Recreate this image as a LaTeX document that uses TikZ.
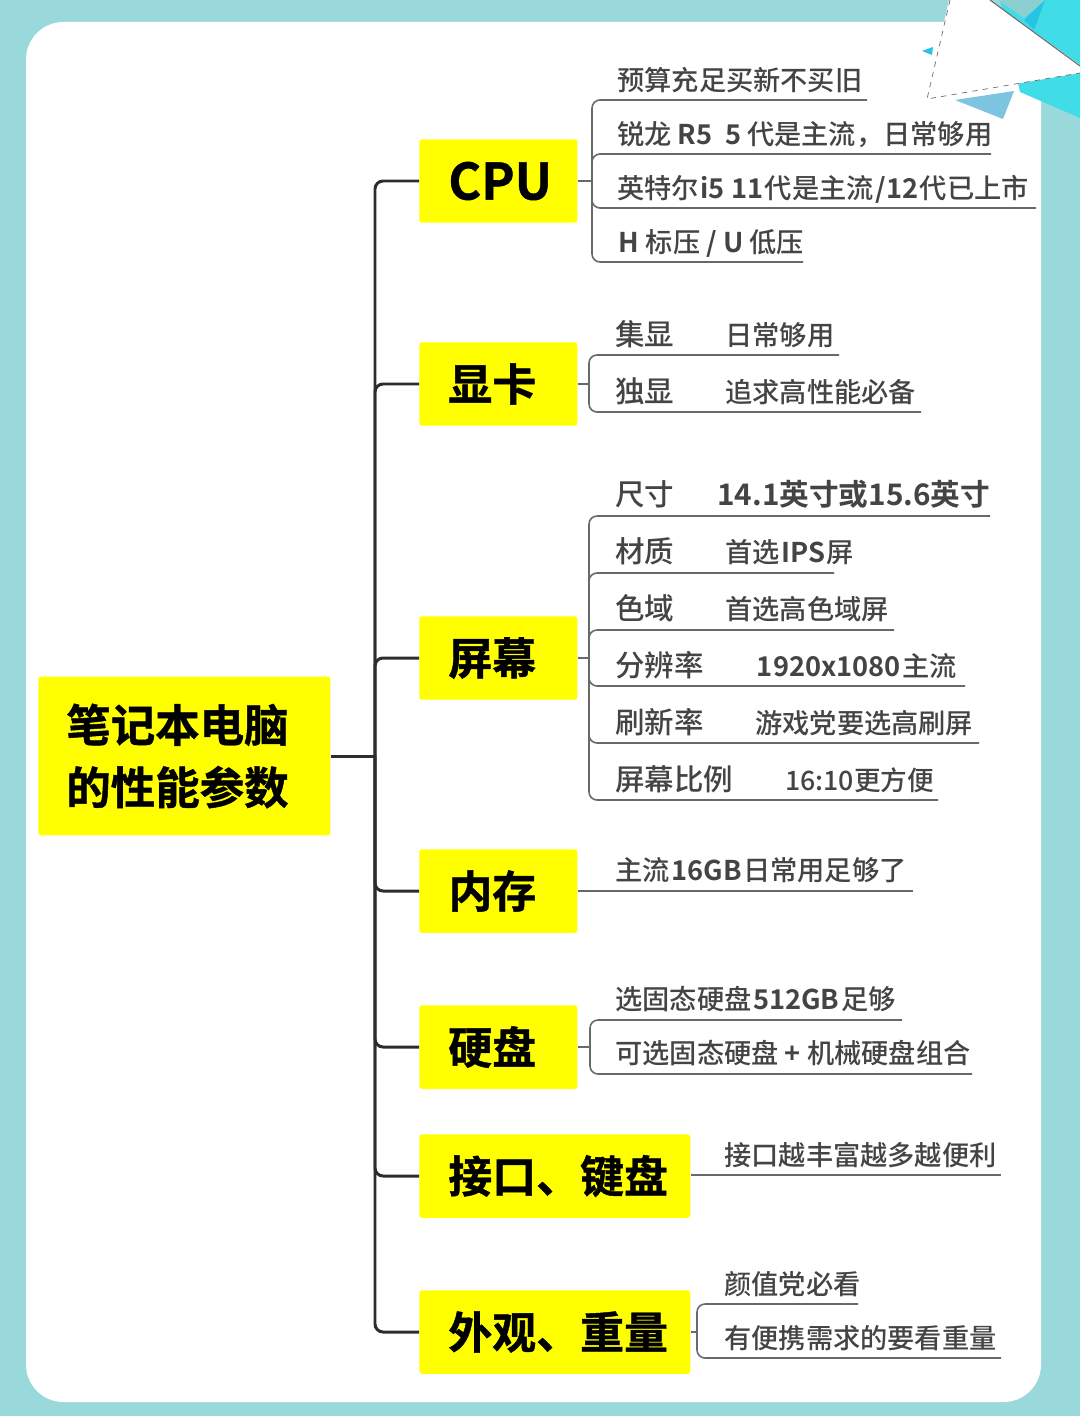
\documentclass[tikz,border=0pt]{standalone}
\usepackage{fontspec}
\usepackage{xcolor}
\setmainfont{Noto Sans CJK SC Medium}
\newfontfamily\titlefont[FakeBold=1.0]{Noto Sans CJK SC Bold}
\newfontfamily\strongfont{Noto Sans CJK SC Bold}
\newcommand{\lat}[1]{\hspace{0.06em}{\strongfont #1}\hspace{0.06em}}
\usetikzlibrary{positioning}
\definecolor{framecolor}{RGB}{154, 217, 219}
\definecolor{topiccolor}{RGB}{255, 255, 0}
\definecolor{decocyan}{RGB}{64, 220, 232}
\definecolor{decoteal}{RGB}{140, 207, 208}
\definecolor{decodeep}{RGB}{38, 195, 226}
\definecolor{decoblue}{RGB}{124, 196, 224}
\definecolor{leafcolor}{RGB}{68, 68, 68}
\definecolor{linecolor}{RGB}{105, 105, 105}
\definecolor{trunkcolor}{RGB}{45, 45, 45}

\begin{document}
\begin{tikzpicture}[
    x=0.02cm, y=-0.02cm,
    topic/.style={rectangle, rounded corners=1.5pt, fill=topiccolor, anchor=west, minimum height=1.67cm, inner xsep=0.58cm, inner ysep=0pt, align=left, font=\titlefont\fontsize{25}{26}\selectfont, text=black},
    smalltopic/.style={topic, minimum width=3.16cm, text width=2cm},
    widetopic/.style={topic, minimum width=5.42cm, text width=4.26cm},
    leaf/.style={anchor=west, inner sep=0pt, text height=1.15em, text depth=0em, text=leafcolor, font=\fontsize{15.5}{18}\selectfont},
    leaflabel/.style={leaf, font=\fontsize{16.8}{18}\selectfont},
    trunk/.style={draw=trunkcolor, line width=1.7pt, rounded corners=0.16cm},
    branch/.style={draw=linecolor, line width=0.9pt, rounded corners=0.16cm}
]
    % Frame and page
    \useasboundingbox (0,0) rectangle (1080,1416);
    \fill[framecolor] (0,0) rectangle (1080,1416);
    \fill[white, rounded corners=0.75cm] (26,22) rectangle (1041,1402);

    % Corner decoration
    \fill[decocyan] (1000,0) -- (1080,0) -- (1080,118) -- (1020,92) -- cycle;
    \fill[decoteal] (998,0) -- (1045,0) -- (1024,18) -- cycle;
    \fill[decodeep] (1024,20) -- (1045,0) -- (1034,30) -- cycle;
    \fill[decoblue] (955,100) -- (1014,91) -- (1003,119) -- cycle;
    \fill[decodeep] (922,51) -- (933,47) -- (932,55) -- cycle;
    \fill[white] (949,0) -- (990,0) -- (1080,65) -- (1080,73) -- (927,99) -- cycle;
    \draw[trunkcolor!70, line width=0.4pt, dashed] (950,0) -- (927,99) -- (1080,73);
    \draw[linecolor, line width=0.6pt] (990,0) -- (1080,66);

    % Root
    \node[topic, minimum width=5.84cm, minimum height=3.18cm, inner xsep=0.56cm, text width=4.72cm, font=\titlefont\fontsize{25.3}{35.5}\selectfont] (root) at (38,756) {笔记本电脑\\的性能参数};
    \coordinate (rootjoint) at (375,756);

    % Topics
    \node[smalltopic, font=\titlefont\fontsize{28.5}{30}\selectfont] (cpu) at (419,181) {CPU};
    \node[smalltopic] (gpu) at (419,384) {显卡};
    \node[smalltopic] (screen) at (419,658) {屏幕};
    \node[smalltopic] (memory) at (419,891) {内存};
    \node[smalltopic] (disk) at (419,1047) {硬盘};
    \node[widetopic] (ports) at (419,1176) {接口、键盘};
    \node[widetopic] (looks) at (419,1332) {外观、重量};

    % Trunk
    \draw[trunk] (root.east) -- (rootjoint);
    \draw[trunk] (rootjoint) |- (cpu.west);
    \draw[trunk] (rootjoint) |- (gpu.west);
    \draw[trunk] (rootjoint) |- (screen.west);
    \draw[trunk] (rootjoint) |- (memory.west);
    \draw[trunk] (rootjoint) |- (disk.west);
    \draw[trunk] (rootjoint) |- (ports.west);
    \draw[trunk] (rootjoint) |- (looks.west);

    % CPU leaves
    \coordinate (cpujoint) at (592,181);
    \node[leaf] (cpua) at (617,80) {预算充足买新不买旧};
    \node[leaf] (cpub) at (617,134) {锐龙\,\lat{R5\ \ 5}\,代是主流，日常够用};
    \node[leaf] (cpuc) at (617,188) {英特尔\lat{i5 11}代是主流\lat{/12}代已上市};
    \node[leaf] (cpud) at (617,242) {\lat{H}\,标压\,\lat{/ U}\,低压};
    \coordinate (cpuaend) at (867,100);
    \coordinate (cpubend) at (991,154);
    \coordinate (cpucend) at (1036,208);
    \coordinate (cpudend) at (803,262);
    \draw[branch] (cpu.east) -- (cpujoint);
    \draw[branch] (cpujoint) |- (cpuaend);
    \draw[branch] (cpujoint) |- (cpubend);
    \draw[branch] (cpujoint) |- (cpucend);
    \draw[branch] (cpujoint) |- (cpudend);

    % Graphics leaves
    \coordinate (gpujoint) at (589,384);
    \node[leaflabel] (gpua) at (615,335) {集显};
    \node[leaf] (gpuatext) at (725,335) {日常够用};
    \node[leaflabel] (gpub) at (615,392) {独显};
    \node[leaf] (gpubtext) at (725,392) {追求高性能必备};
    \coordinate (gpuaend) at (839,355);
    \coordinate (gpubend) at (921,412);
    \draw[branch] (gpu.east) -- (gpujoint);
    \draw[branch] (gpujoint) |- (gpuaend);
    \draw[branch] (gpujoint) |- (gpubend);

    % Screen leaves
    \coordinate (screenjoint) at (589,658);
    \node[leaflabel] (screena) at (615,495) {尺寸};
    \node[leaf, font=\strongfont\fontsize{16.9}{18}\selectfont] (screenatext) at (717,495) {14.1英寸或15.6英寸};
    \node[leaflabel] (screenb) at (615,552) {材质};
    \node[leaf] (screenbtext) at (725,552) {首选\lat{IPS}屏};
    \node[leaflabel] (screenc) at (615,609) {色域};
    \node[leaf] (screenctext) at (725,609) {首选高色域屏};
    \node[leaflabel] (screend) at (615,666) {分辨率};
    \node[leaf] (screendtext) at (755,666) {\lat{1920x1080}主流};
    \node[leaflabel] (screene) at (615,723) {刷新率};
    \node[leaf] (screenetext) at (755,723) {游戏党要选高刷屏};
    \node[leaflabel] (screenf) at (615,780) {屏幕比例};
    \node[leaf, font=\fontsize{15.2}{18}\selectfont] (screenftext) at (785,780) {16:10更方便};
    \coordinate (screenaend) at (990,516);
    \coordinate (screenbend) at (834,573);
    \coordinate (screencend) at (894,630);
    \coordinate (screendend) at (965,686);
    \coordinate (screeneend) at (979,743);
    \coordinate (screenfend) at (938,800);
    \draw[branch] (screen.east) -- (screenjoint);
    \draw[branch] (screenjoint) |- (screenaend);
    \draw[branch] (screenjoint) |- (screenbend);
    \draw[branch] (screenjoint) |- (screencend);
    \draw[branch] (screenjoint) |- (screendend);
    \draw[branch] (screenjoint) |- (screeneend);
    \draw[branch] (screenjoint) |- (screenfend);

    % Memory leaf
    \node[leaf] (memorya) at (615,870) {主流\lat{16GB}日常用足够了};
    \coordinate (memoryend) at (913,891);
    \draw[branch] (memory.east) -- (memoryend);

    % Disk leaves
    \coordinate (diskjoint) at (590,1047);
    \node[leaf] (diska) at (615,999) {选固态硬盘\lat{512GB}足够};
    \node[leaf] (diskb) at (615,1053) {可选固态硬盘\,\lat{+}\,机械硬盘组合};
    \coordinate (diskaend) at (902,1020);
    \coordinate (diskbend) at (972,1074);
    \draw[branch] (disk.east) -- (diskjoint);
    \draw[branch] (diskjoint) |- (diskaend);
    \draw[branch] (diskjoint) |- (diskbend);

    % Ports leaf
    \node[leaf] (portsa) at (724,1155) {接口越丰富越多越便利};
    \coordinate (portsend) at (1001,1175);
    \draw[branch] (ports.east |- portsend) -- (portsend);

    % Looks leaves
    \coordinate (looksjoint) at (697,1332);
    \node[leaf] (looksa) at (724,1284) {颜值党必看};
    \node[leaf] (looksb) at (724,1338) {有便携需求的要看重量};
    \coordinate (looksaend) at (858,1304);
    \coordinate (looksbend) at (1001,1358);
    \draw[branch] (looks.east) -- (looksjoint);
    \draw[branch] (looksjoint) |- (looksaend);
    \draw[branch] (looksjoint) |- (looksbend);
\end{tikzpicture}
\end{document}
